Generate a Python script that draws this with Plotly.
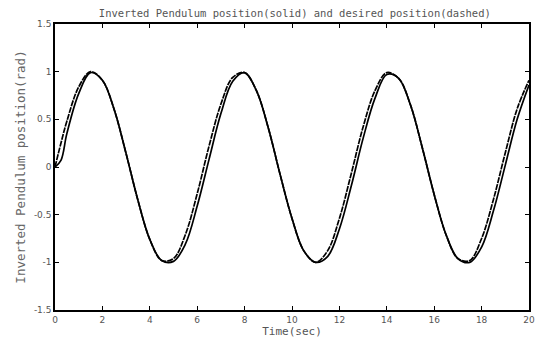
import plotly.graph_objects as go

# Time samples (s)
time_s = [0, 0.25, 0.5, 1.0, 1.5, 2.0, 2.5, 3.0, 3.5, 4.0, 4.5, 5.0, 5.5, 6.0, 6.5,
          7.0, 7.5, 8.0, 8.5, 9.0, 9.5, 10.0, 10.5, 11.0, 11.5, 12.0, 12.5,
          13.0, 13.5, 14.0, 14.5, 15.0, 15.5, 16.0, 16.5, 17.0, 17.5, 18.0,
          18.5, 19.0, 19.5, 20.0]

# Desired pendulum position (rad)
desired_pos = [0.00, 0.25, 0.48, 0.84, 1.00, 0.91, 0.60, 0.14, -0.35, -0.76, -0.98,
               -0.96, -0.71, -0.28, 0.22, 0.66, 0.94, 0.99, 0.80, 0.41, -0.08,
               -0.54, -0.88, -1.00, -0.88, -0.54, -0.07, 0.42, 0.80, 0.99, 0.93,
               0.65, 0.20, -0.29, -0.71, -0.96, -0.98, -0.75, -0.34, 0.15, 0.61,
               0.91]

# Measured pendulum position (rad)
actual_pos = [0.00, 0.07, 0.35, 0.77, 0.99, 0.91, 0.60, 0.14, -0.35, -0.76, -0.98,
              -0.99, -0.81, -0.41, 0.08, 0.56, 0.90, 0.99, 0.80, 0.41, -0.08,
              -0.54, -0.88, -1.00, -0.94, -0.65, -0.20, 0.30, 0.72, 0.97, 0.93,
              0.65, 0.20, -0.29, -0.71, -0.96, -1.00, -0.84, -0.46, 0.02, 0.50,
              0.86]

x_ticks = [0, 2, 4, 6, 8, 10, 12, 14, 16, 18, 20]
y_ticks = [-1.5, -1, -0.5, 0, 0.5, 1, 1.5]
y_tick_text = ["-1.5", "-1", "-0.5", "0", "0.5", "1", "1.5"]

label_font = "DejaVu Sans Mono, monospace"
tick_font = "DejaVu Sans, sans-serif"
text_color = "#555555"

fig = go.Figure()
fig.add_trace(go.Scatter(
    x=time_s, y=desired_pos, mode="lines", line_shape="spline",
    line=dict(color="black", width=1.7, dash="6px,1px"),
    name="desired", showlegend=False,
))
fig.add_trace(go.Scatter(
    x=time_s, y=actual_pos, mode="lines", line_shape="spline",
    line=dict(color="black", width=1.7),
    name="actual", showlegend=False,
))

axis_common = dict(
    showline=True, linecolor="black", linewidth=1.5, mirror="ticks",
    ticks="inside", ticklen=4, tickcolor="black", showgrid=False,
    zeroline=False, tickfont=dict(family=tick_font, size=9, color=text_color),
)

fig.update_layout(
    width=540, height=341,
    margin=dict(l=55, r=5, t=24, b=31),
    paper_bgcolor="white", plot_bgcolor="white",
    title=dict(
        text="Inverted Pendulum position(solid) and desired position(dashed)",
        x=0.546, xanchor="center", y=0.962, yanchor="middle",
        font=dict(family=label_font, size=10.5, color=text_color),
    ),
    xaxis=dict(range=[0, 20], tickvals=x_ticks,
               title=dict(text="Time(sec)", standoff=3,
                          font=dict(family=label_font, size=11, color=text_color)),
               **axis_common),
    yaxis=dict(range=[-1.5, 1.5], tickvals=y_ticks, ticktext=y_tick_text,
               title=dict(text="Inverted Pendulum position(rad)", standoff=6,
                          font=dict(family=label_font, size=12.5, color="#666666")),
               **axis_common),
)

fig.write_html("out.html")
